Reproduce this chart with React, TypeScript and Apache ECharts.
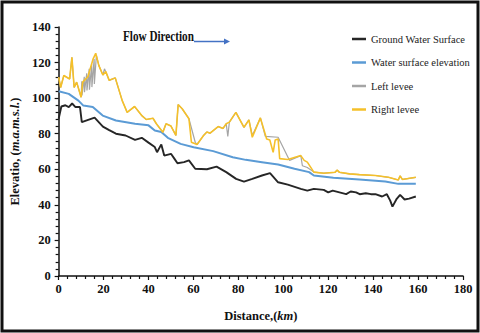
import React, { useEffect, useRef } from "react";
import * as echarts from "echarts";

const SERIF = "Liberation Serif";

const seriesNames = ["Ground Water Surface", "Water surface elevation", "Left levee", "Right levee"];
const seriesColors = ["#262626", "#5b9bd5", "#a5a5a5", "#f5c02a"];

const xTicks = [0, 20, 40, 60, 80, 100, 120, 140, 160, 180];
const yTicks = [0, 20, 40, 60, 80, 100, 120, 140];

const groundX = [0, 1.2, 3, 4.5, 6, 7.5, 9.5, 10.3, 12.5, 16, 19.7, 22.5, 25.5, 29.8, 34, 37, 40, 42.8, 43.8, 45.7, 47, 50, 51.5, 52.9, 55.8, 58, 60.8, 66, 70.3, 74.6, 79, 82.5, 86.2, 90.5, 94.1, 97.7, 102, 107.8, 110.7, 113.6, 118, 120, 122, 125, 128, 130, 132.4, 134, 136.7, 139, 141, 144, 146.1, 147.6, 148.6, 150.5, 152, 154, 156, 159];
const groundY = [88.4, 95.3, 96, 95, 97, 95, 95, 86.5, 87.5, 89, 84, 82, 80, 79, 76.5, 77.7, 75, 72.5, 69.6, 74, 67.7, 68.7, 66, 63.4, 64, 65, 60.3, 60, 61.5, 58.4, 54.6, 53.1, 54.6, 56.5, 57.8, 52.7, 51.4, 49, 48, 49, 48.4, 47, 48, 47, 46, 47.5, 47, 46, 46.5, 46, 46, 44.7, 46, 42.4, 39, 43.4, 45.6, 43, 43.5, 44.7];

const waterX = [0, 4.5, 8.8, 11, 15.2, 19.6, 25.5, 34, 40, 42.8, 45.7, 48.6, 54.3, 60.1, 68.8, 77.5, 83.3, 90.5, 97.7, 105, 111.5, 113.6, 122.3, 133.9, 145.4, 151.2, 159];
const waterY = [103.9, 102.4, 98.6, 95.8, 95, 90.2, 87.4, 85.6, 84.7, 81.8, 81, 77.7, 74.3, 72.4, 70.2, 66.8, 65.3, 64, 62.7, 60.3, 58.4, 56.5, 55.2, 54.2, 53.1, 51.8, 51.8];

const leftX = [0, 0.9, 2.3, 4.9, 5.9, 6.9, 8, 10, 10.3, 10.4, 11.4, 11.5, 12.5, 12.6, 13.6, 13.7, 14.7, 14.8, 15.8, 15.9, 16.8, 17.9, 19.7, 20.4, 22.5, 25.2, 28.3, 30.5, 33.8, 37, 39, 42, 43.5, 46.4, 47.8, 50, 52.2, 53.2, 55, 58, 60.8, 61.6, 64.5, 66, 67.4, 71, 73.2, 74.6, 75.3, 76, 78.9, 82.5, 84.7, 86.2, 89.8, 92, 97.7, 102.8, 107.8, 108.5, 110.7, 113.6, 118, 123, 124, 125, 129.5, 133.9, 141, 146.8, 151.2, 152, 153, 159];
const leftY = [111.8, 106, 112.7, 110.8, 123, 106, 109, 100.5, 109.5, 101.5, 112, 103.3, 114, 104.3, 116.5, 104.7, 119, 106.2, 122, 108, 124, 118.3, 113, 116.5, 110, 111.4, 98.6, 92, 95.3, 90.2, 88, 88.7, 85.6, 80.8, 85.6, 84.3, 79, 96.4, 94, 88.4, 75.2, 73.9, 79, 81, 80.3, 84, 83, 85.6, 78.5, 86.5, 92, 83.6, 87.8, 79, 88.9, 78.5, 78, 65, 67.7, 62, 61, 58.4, 57.8, 58.3, 59.5, 58.3, 57.4, 57, 56.5, 55.5, 54, 56.3, 54.3, 55.5];

const rightX = [0, 0.9, 2.3, 4.9, 5.9, 6.9, 8, 10, 10.7, 13, 15.3, 16.5, 17.9, 19.7, 21, 22.5, 25.2, 28.3, 30.5, 33.8, 37, 39, 42, 43.5, 46.4, 47.8, 50, 52.2, 53.2, 55, 58, 59.1, 61.6, 64.5, 66, 67.4, 71, 73.2, 74.6, 76, 78.9, 82.5, 84.7, 86.2, 89.8, 92.6, 94, 95.5, 96.4, 97.7, 98.4, 102, 107.8, 109.3, 110.7, 113.6, 118, 123, 124, 125, 129.5, 133.9, 141, 146.8, 151.2, 152, 153, 159];
const rightY = [111.8, 106, 112.7, 110.8, 123, 106, 109, 100.5, 109, 112, 121.9, 125.2, 118.3, 113, 115, 110, 111.4, 98.6, 92, 95.3, 90.2, 88, 88.7, 85.6, 80.8, 85.6, 84.3, 79, 96.4, 94, 88.4, 75.2, 73.9, 79, 81, 80.3, 84, 83, 85.6, 86.5, 92, 83.6, 87.8, 78, 88.9, 77, 76.5, 69.5, 76.5, 77, 66, 65.5, 67.7, 65, 64, 58.4, 57.8, 58.3, 59.5, 58.3, 57.4, 57, 56.5, 55.5, 54, 56.3, 54.3, 55.5];

const zip = (xs: number[], ys: number[]) => xs.map((x, i) => [x, ys[i]]);

export default function App() {
  const ref = useRef<HTMLDivElement>(null);
  useEffect(() => {
    if (!ref.current) return;
    const chart = echarts.init(ref.current, null, { renderer: "svg" });
    const allX = [groundX, waterX, leftX, rightX];
    const allY = [groundY, waterY, leftY, rightY];
    const widths = [1.9, 2, 1.2, 1.6];
    chart.setOption({
      animation: false,
      backgroundColor: "#ffffff",
      textStyle: { fontFamily: SERIF },
      grid: { left: 48, right: 17, top: 27, bottom: 57 },
      legend: {
        orient: "vertical",
        left: 347,
        top: 27,
        itemWidth: 14,
        itemHeight: 2.5,
        itemGap: 9.5,
        icon: "rect",
        data: seriesNames,
        textStyle: { fontFamily: SERIF, fontSize: 10.5, color: "#222", lineHeight: 14 },
      },
      xAxis: {
        type: "value",
        min: 0,
        max: 180,
        interval: 20,
        name: "{b|Distance,(}{i|km}{b|)}",
        nameLocation: "middle",
        nameGap: 33,
        nameTextStyle: {
          fontFamily: SERIF,
          fontSize: 12,
          fontWeight: "bold",
          color: "#111",
          rich: {
            b: { fontFamily: SERIF, fontSize: 12.5, fontWeight: "bold", color: "#111" },
            i: { fontFamily: SERIF, fontSize: 12.5, fontWeight: "bold", fontStyle: "italic", color: "#111" },
          },
        },
        axisLine: { show: true, lineStyle: { color: "#111", width: 1.5 } },
        axisTick: { show: true, length: 4, lineStyle: { color: "#111", width: 1.2 } },
        minorTick: { show: true, splitNumber: 5, length: 3, lineStyle: { color: "#111", width: 1.2 } },
        splitLine: { show: false },
        axisLabel: {
          margin: 6,
          fontFamily: SERIF,
          fontSize: 12.5,
          fontWeight: "bold",
          color: "#111",
          formatter: (v: number) => (xTicks.includes(v) ? String(v) : ""),
        },
      },
      yAxis: {
        type: "value",
        min: 0,
        max: 140,
        interval: 20,
        name: "{b|Elevatio, (}{i|m.a.m.s.l.}{b|)}",
        nameLocation: "middle",
        nameGap: 28,
        nameTextStyle: {
          fontFamily: SERIF,
          fontSize: 12,
          fontWeight: "bold",
          color: "#111",
          rich: {
            b: { fontFamily: SERIF, fontSize: 12.5, fontWeight: "bold", color: "#111" },
            i: { fontFamily: SERIF, fontSize: 12.5, fontWeight: "bold", fontStyle: "italic", color: "#111" },
          },
        },
        axisLine: { show: true, lineStyle: { color: "#111", width: 1.5 } },
        axisTick: { show: true, length: 4, lineStyle: { color: "#111", width: 1.2 } },
        minorTick: { show: true, splitNumber: 5, length: 3, lineStyle: { color: "#111", width: 1.2 } },
        splitLine: { show: false },
        axisLabel: {
          margin: 8,
          fontFamily: SERIF,
          fontSize: 12.5,
          fontWeight: "bold",
          color: "#111",
          formatter: (v: number) => (yTicks.includes(v) ? String(v) : ""),
        },
      },
      series: seriesNames.map((name, i) => ({
        name,
        type: "line",
        data: zip(allX[i], allY[i]),
        showSymbol: false,
        symbol: "none",
        color: seriesColors[i],
        lineStyle: { color: seriesColors[i], width: widths[i] },
        z: 2 + i,
      })),
      graphic: [
        {
          type: "rect",
          shape: { x: 2, y: 2, width: 476, height: 329 },
          style: { fill: "none", stroke: "#111", lineWidth: 3 },
          silent: true,
        },
        {
          type: "text",
          x: 123,
          y: 37,
          scaleX: 0.8,
          style: {
            text: "Flow Direction",
            fontFamily: SERIF,
            fontSize: 14,
            fontWeight: "bold",
            fill: "#111",
            verticalAlign: "middle",
            align: "left",
          },
        },
        {
          type: "line",
          shape: { x1: 194, y1: 41.5, x2: 225, y2: 41.5 },
          style: { stroke: "#4472c4", lineWidth: 1.5 },
        },
        {
          type: "polygon",
          shape: { points: [[224, 38.5], [230, 41.5], [224, 44.5]] },
          style: { fill: "#4472c4" },
        },
      ],
    });
    return () => chart.dispose();
  }, []);
  return (
    <div
      ref={ref}
      style={{ position: "absolute", left: 0, top: 0, width: 480, height: 333 }}
    />
  );
}
